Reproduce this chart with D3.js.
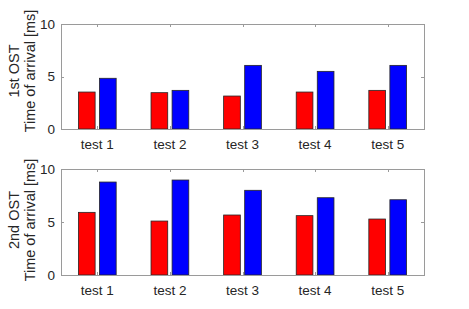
<!DOCTYPE html>
<html>
<head>
<meta charset="utf-8">
<script src="https://cdn.jsdelivr.net/npm/d3@7"></script>
<style>
  body { margin: 0; background: #fff; }
  text { font-family: "Liberation Sans", Arial, sans-serif; }
</style>
</head>
<body>
<div id="chart"></div>
<script>
var categories = ["test 1", "test 2", "test 3", "test 4", "test 5"];
var seriesNames = ["red", "blue"];
var first_red = [3.52, 3.46, 3.14, 3.52, 3.68];
var first_blue = [4.83, 3.68, 6.06, 5.49, 6.06];
var second_red = [5.91, 5.09, 5.66, 5.6, 5.28];
var second_blue = [8.77, 8.96, 7.99, 7.29, 7.1];
var yTicks = [0, 5, 10];

var width = 469, height = 309;
var colors = { red: "#ff0000", blue: "#0000ff" };

var svg = d3.select("#chart").append("svg")
  .attr("width", width)
  .attr("height", height);

var panels = [
  { title: "1st OST", top: 24, bottom: 129, labelY: 71, red: first_red, blue: first_blue },
  { title: "2nd OST", top: 169, bottom: 275, labelY: 220, red: second_red, blue: second_blue }
];

var left = 61, right = 424;

var xScale = d3.scaleLinear().domain([0.5, 5.5]).range([left, right]);
var unit = xScale(1) - xScale(0);
var barW = 0.23 * unit;
var offset = 0.145 * unit;

panels.forEach(function (p) {
  var yScale = d3.scaleLinear().domain([0, 10]).range([p.bottom, p.top]);
  var g = svg.append("g");

  // bars
  seriesNames.forEach(function (s, si) {
    g.selectAll(".bar-" + s)
      .data(p[s])
      .enter().append("rect")
      .attr("x", function (d, i) { return xScale(i + 1) + (si === 0 ? -offset : offset) - barW / 2; })
      .attr("y", function (d) { return yScale(d); })
      .attr("width", barW)
      .attr("height", function (d) { return yScale(0) - yScale(d); })
      .attr("fill", colors[s])
      .attr("stroke", "#262626")
      .attr("stroke-width", 0.8);
  });

  var axisColor = "#9a9a9a";
  var tickLen = 3;

  // box
  g.append("rect")
    .attr("x", left + 0.5)
    .attr("y", p.top + 0.5)
    .attr("width", right - left)
    .attr("height", p.bottom - p.top)
    .attr("fill", "none")
    .attr("stroke", axisColor)
    .attr("stroke-width", 1);

  // x ticks, bottom & top
  categories.forEach(function (c, i) {
    var x = Math.round(xScale(i + 1)) + 0.5;
    g.append("line").attr("x1", x).attr("x2", x)
      .attr("y1", p.bottom).attr("y2", p.bottom - tickLen)
      .attr("stroke", axisColor);
    g.append("line").attr("x1", x).attr("x2", x)
      .attr("y1", p.top).attr("y2", p.top + tickLen)
      .attr("stroke", axisColor);
    g.append("text")
      .attr("x", xScale(i + 1))
      .attr("y", p.bottom + 19.5)
      .attr("text-anchor", "middle")
      .attr("font-size", 13.5)
      .attr("fill", "#262626")
      .text(c);
  });

  // y ticks, left & right
  yTicks.forEach(function (t) {
    var y = Math.round(yScale(t)) + 0.5;
    g.append("line").attr("x1", left).attr("x2", left + tickLen)
      .attr("y1", y).attr("y2", y).attr("stroke", axisColor);
    g.append("line").attr("x1", right).attr("x2", right - tickLen)
      .attr("y1", y).attr("y2", y).attr("stroke", axisColor);
    g.append("text")
      .attr("x", left - 6)
      .attr("y", yScale(t))
      .attr("dy", "0.35em")
      .attr("text-anchor", "end")
      .attr("font-size", 13.5)
      .attr("fill", "#262626")
      .text(t);
  });

  // y label, two lines
  var lab = g.append("text")
    .attr("transform", "translate(18.5," + p.labelY + ") rotate(-90)")
    .attr("text-anchor", "middle")
    .attr("font-size", 14.5)
    .attr("fill", "#262626");
  lab.append("tspan").attr("x", 0).attr("y", 0).text(p.title);
  lab.append("tspan").attr("x", 0).attr("y", 16.5).text("Time of arrival [ms]");
});
</script>
</body>
</html>
